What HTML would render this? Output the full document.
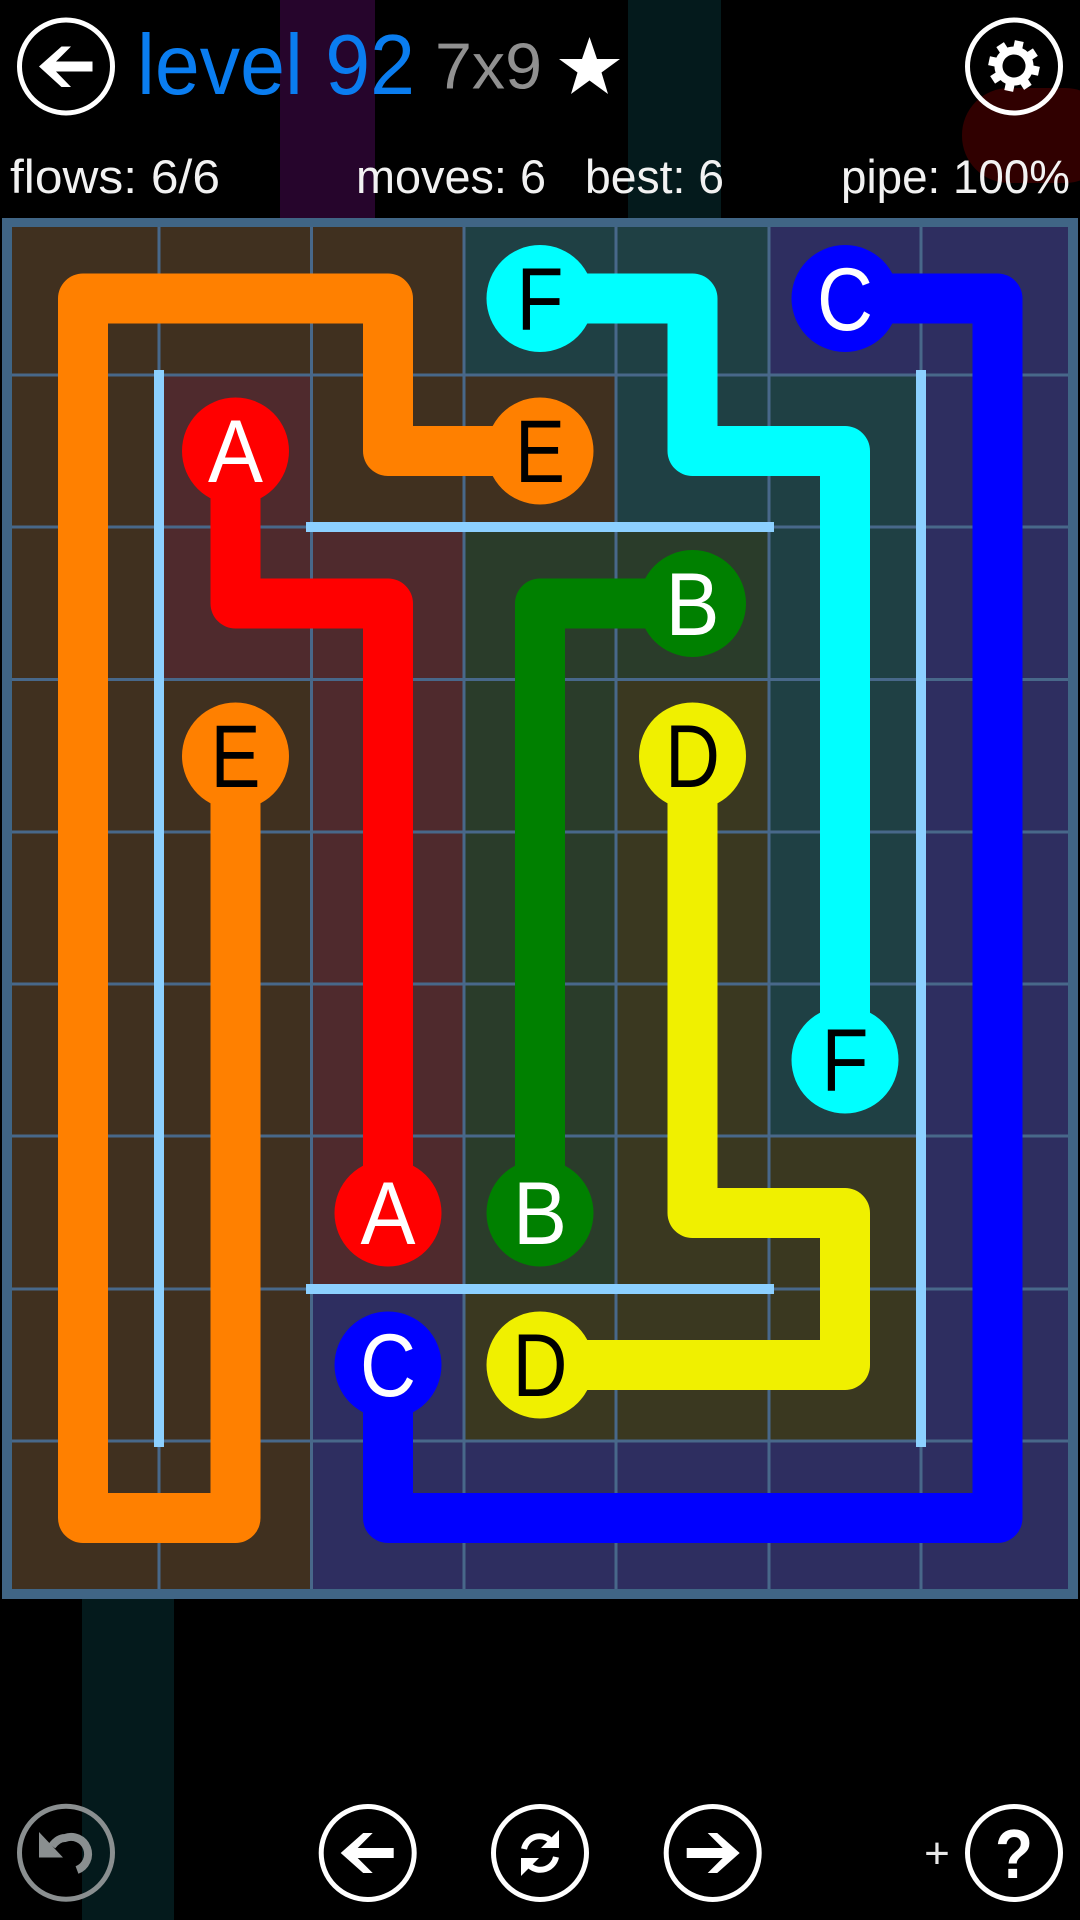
<!DOCTYPE html>
<html><head><meta charset="utf-8"><style>
html,body{margin:0;padding:0;background:#000;width:1080px;height:1920px;overflow:hidden}
svg{display:block}
text{font-family:"Liberation Sans",sans-serif}
.n{font-size:89px;text-anchor:middle}
.s{font-size:47px;fill:#f2f2f2}
</style></head><body>
<svg width="1080" height="1920" viewBox="0 0 1080 1920" xmlns="http://www.w3.org/2000/svg">
<rect width="1080" height="1920" fill="#000"/>
<!-- background stripes -->
<rect x="280" y="0" width="95" height="218" fill="#26052c"/>
<rect x="628" y="0" width="93" height="218" fill="#041a1c"/>
<rect x="82" y="1599" width="92" height="321" fill="#041a1c"/>
<rect x="962" y="88" width="150" height="95" rx="47" fill="#300000"/>
<!-- header -->
<circle cx="66" cy="66.500" r="46.500" fill="none" stroke="#fff" stroke-width="5"/>
<polygon fill="#fff" points="39,66.500 61.500,46.500 71,46.500 56,61.500 92.500,61.500 92.500,71.500 56,71.500 71,87 61.500,87"/>
<text x="137" y="94" font-size="85" fill="#0a7df0" textLength="278" lengthAdjust="spacingAndGlyphs">level 92</text>
<text x="435" y="88.500" font-size="65" fill="#909090" textLength="107" lengthAdjust="spacingAndGlyphs">7x9</text>
<polygon fill="#fff" points="589.500,37 597,59 620,59 601.500,72.500 608,94 589.500,80.500 571,94 577.500,72.500 559,59 582,59"/>
<circle cx="1014" cy="66.500" r="46.500" fill="none" stroke="#fff" stroke-width="5"/>
<g transform="translate(1014 66) rotate(12)">
<circle r="15.500" fill="none" stroke="#fff" stroke-width="8"/>
<g fill="#fff">
<rect x="-4.500" y="-25.500" width="9" height="9"/>
<rect x="-4.500" y="-25.500" width="9" height="9" transform="rotate(45)"/>
<rect x="-4.500" y="-25.500" width="9" height="9" transform="rotate(90)"/>
<rect x="-4.500" y="-25.500" width="9" height="9" transform="rotate(135)"/>
<rect x="-4.500" y="-25.500" width="9" height="9" transform="rotate(180)"/>
<rect x="-4.500" y="-25.500" width="9" height="9" transform="rotate(225)"/>
<rect x="-4.500" y="-25.500" width="9" height="9" transform="rotate(270)"/>
<rect x="-4.500" y="-25.500" width="9" height="9" transform="rotate(315)"/>
</g></g>
<!-- stats -->
<text class="s" x="10" y="193" textLength="210" lengthAdjust="spacingAndGlyphs">flows: 6/6</text>
<text class="s" x="356" y="193" textLength="190" lengthAdjust="spacingAndGlyphs">moves: 6</text>
<text class="s" x="585" y="193" textLength="139" lengthAdjust="spacingAndGlyphs">best: 6</text>
<text class="s" x="841" y="193" textLength="229" lengthAdjust="spacingAndGlyphs">pipe: 100%</text>
<!-- board -->
<rect x="2" y="218" width="1076" height="1381" fill="#406585"/>
<g fill="#40301f">
<rect x="7" y="222" width="152" height="1372"/>
<rect x="159" y="222" width="305" height="153"/>
<rect x="311" y="375" width="305" height="152"/>
<rect x="159" y="679" width="152.500" height="915"/>
</g>
<g fill="#4f2a2d">
<rect x="159" y="375" width="152.500" height="304"/>
<rect x="311" y="527" width="153" height="762"/>
</g>
<g fill="#2a3c2a">
<rect x="464" y="527" width="305" height="152"/>
<rect x="464" y="679" width="152" height="610"/>
</g>
<g fill="#1f4044">
<rect x="464" y="222" width="305" height="153"/>
<rect x="616" y="375" width="305" height="152"/>
<rect x="769" y="527" width="152" height="609"/>
</g>
<g fill="#3a3820">
<rect x="616" y="679" width="153" height="457"/>
<rect x="616" y="1136" width="305" height="153"/>
<rect x="464" y="1289" width="457" height="152"/>
</g>
<g fill="#2e2e60">
<rect x="769" y="222" width="304" height="153"/>
<rect x="921" y="375" width="152" height="1219"/>
<rect x="311" y="1289" width="153" height="152"/>
<rect x="311" y="1441" width="762" height="153"/>
</g>
<!-- grid -->
<g fill="#48688a">
<rect x="157.500" y="222" width="3" height="1372"/>
<rect x="310" y="222" width="3" height="1372"/>
<rect x="462.500" y="222" width="3" height="1372"/>
<rect x="614.500" y="222" width="3" height="1372"/>
<rect x="767.500" y="222" width="3" height="1372"/>
<rect x="919.500" y="222" width="3" height="1372"/>
<rect x="7" y="373.500" width="1066" height="3"/>
<rect x="7" y="525.500" width="1066" height="3"/>
<rect x="7" y="678" width="1066" height="3"/>
<rect x="7" y="830.500" width="1066" height="3"/>
<rect x="7" y="982.500" width="1066" height="3"/>
<rect x="7" y="1134.500" width="1066" height="3"/>
<rect x="7" y="1287.500" width="1066" height="3"/>
<rect x="7" y="1439.500" width="1066" height="3"/>
</g>
<!-- frame -->
<path fill="#406585" fill-rule="evenodd" d="M2 218H1078V1599H2ZM12 227V1589H1068V227Z"/>
<!-- walls -->
<g fill="#8cd0ff">
<rect x="154" y="370" width="10" height="1077"/>
<rect x="916" y="370" width="10" height="1077"/>
<rect x="306" y="522" width="468" height="10"/>
<rect x="306" y="1284" width="468" height="10"/>
</g>
<!-- flows -->
<g fill="none" stroke-width="50" stroke-linejoin="round" stroke-linecap="butt">
<path stroke="#ff8000" d="M540 451H388V298.500H83V1518H235.500V756"/>
<path stroke="#00ffff" d="M540 298.500H692.500V451H845V1060"/>
<path stroke="#0000ff" d="M845 298.500H997.500V1518H388V1365"/>
<path stroke="#ff0000" d="M235.500 451V603.500H388V1213"/>
<path stroke="#008000" d="M692.500 603.500H540V1213"/>
<path stroke="#f0f000" d="M692.500 756V1213H845V1365H540"/>
</g>
<!-- nodes -->
<g>
<circle cx="540" cy="298.500" r="53.500" fill="#00ffff"/>
<circle cx="845" cy="298.500" r="53.500" fill="#0000ff"/>
<circle cx="235.500" cy="451" r="53.500" fill="#ff0000"/>
<circle cx="540" cy="451" r="53.500" fill="#ff8000"/>
<circle cx="692.500" cy="603.500" r="53.500" fill="#008000"/>
<circle cx="235.500" cy="756" r="53.500" fill="#ff8000"/>
<circle cx="692.500" cy="756" r="53.500" fill="#f0f000"/>
<circle cx="845" cy="1060" r="53.500" fill="#00ffff"/>
<circle cx="388" cy="1213" r="53.500" fill="#ff0000"/>
<circle cx="540" cy="1213" r="53.500" fill="#008000"/>
<circle cx="388" cy="1365" r="53.500" fill="#0000ff"/>
<circle cx="540" cy="1365" r="53.500" fill="#f0f000"/>
</g>
<text class="n" x="540" y="330" fill="#000" textLength="47" lengthAdjust="spacingAndGlyphs">F</text>
<text class="n" x="845" y="330" fill="#fff" textLength="56" lengthAdjust="spacingAndGlyphs">C</text>
<text class="n" x="235.500" y="482" fill="#fff" textLength="55" lengthAdjust="spacingAndGlyphs">A</text>
<text class="n" x="540" y="482" fill="#000" textLength="50" lengthAdjust="spacingAndGlyphs">E</text>
<text class="n" x="692.500" y="635" fill="#fff" textLength="54" lengthAdjust="spacingAndGlyphs">B</text>
<text class="n" x="235.500" y="787" fill="#000" textLength="50" lengthAdjust="spacingAndGlyphs">E</text>
<text class="n" x="692.500" y="787" fill="#000" textLength="55" lengthAdjust="spacingAndGlyphs">D</text>
<text class="n" x="845" y="1091" fill="#000" textLength="47" lengthAdjust="spacingAndGlyphs">F</text>
<text class="n" x="388" y="1244" fill="#fff" textLength="55" lengthAdjust="spacingAndGlyphs">A</text>
<text class="n" x="540" y="1244" fill="#fff" textLength="54" lengthAdjust="spacingAndGlyphs">B</text>
<text class="n" x="388" y="1396" fill="#fff" textLength="56" lengthAdjust="spacingAndGlyphs">C</text>
<text class="n" x="540" y="1396" fill="#000" textLength="55" lengthAdjust="spacingAndGlyphs">D</text>
<!-- bottom buttons -->
<circle cx="66" cy="1852.700" r="46.500" fill="none" stroke="#8a8f90" stroke-width="5"/>
<polygon fill="#8a8f90" points="39,1832 39,1857.500 63,1857.500"/>
<path d="M52 1846Q58 1838 65 1838A17 17 0 0 1 77 1870" fill="none" stroke="#8a8f90" stroke-width="8"/>
<circle cx="367.700" cy="1853" r="46.500" fill="none" stroke="#fff" stroke-width="5"/>
<polygon fill="#fff" transform="translate(367.700 1853)" points="-27,0 -4.500,-20 5,-20 -10,-5 26,-5 26,5 -10,5 5,20 -4.500,20"/>
<circle cx="540" cy="1853" r="46.500" fill="none" stroke="#fff" stroke-width="5"/>
<g transform="translate(540 1853)" fill="#fff">
<path d="M-16 -4A16 16 0 0 1 10 -13" fill="none" stroke="#fff" stroke-width="6"/>
<polygon points="19,-23 19,-5 1,-5"/>
<path d="M16 4A16 16 0 0 1 -10 13" fill="none" stroke="#fff" stroke-width="6"/>
<polygon points="-19,23 -19,5 -1,5"/>
</g>
<circle cx="712.700" cy="1853" r="46.500" fill="none" stroke="#fff" stroke-width="5"/>
<polygon fill="#fff" transform="translate(712.700 1853) scale(-1 1)" points="-27,0 -4.500,-20 5,-20 -10,-5 26,-5 26,5 -10,5 5,20 -4.500,20"/>
<text x="937" y="1868" font-size="44" fill="#e8e8e8" text-anchor="middle">+</text>
<circle cx="1014" cy="1853" r="46.500" fill="none" stroke="#fff" stroke-width="5"/>
<text x="1014" y="1878" font-size="70" font-weight="bold" fill="#fff" text-anchor="middle" textLength="38" lengthAdjust="spacingAndGlyphs">?</text>
</svg>
</body></html>
